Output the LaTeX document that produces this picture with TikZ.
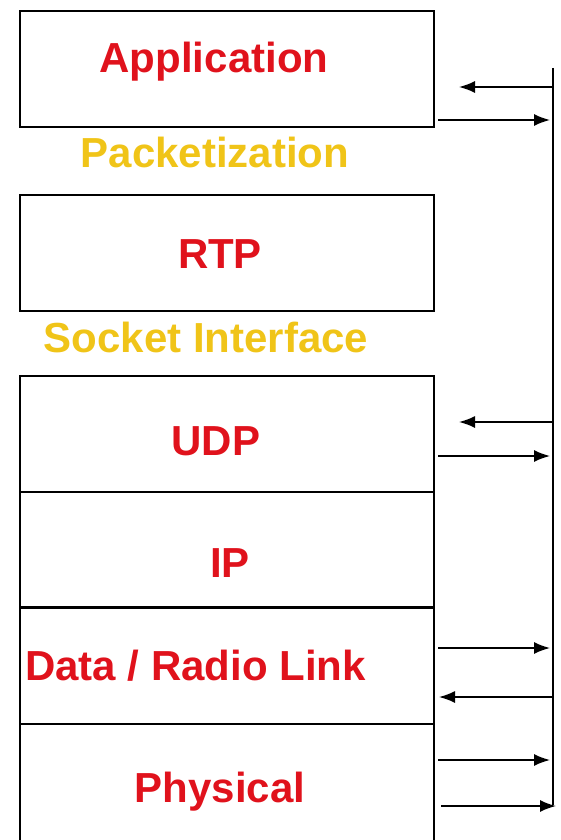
\documentclass[tikz,border=0pt]{standalone}
\usepackage{fontspec}
\setmainfont{Liberation Sans}
\usetikzlibrary{positioning,arrows.meta,calc}
\definecolor{layerred}{RGB}{224,18,28}
\definecolor{stepgold}{RGB}{240,196,24}

\begin{document}
\begin{tikzpicture}[
    x=1pt, y=-1pt,
    node distance=0pt,
    layer/.style={rectangle, draw, line width=1.8pt, minimum width=414pt, minimum height=116pt, inner sep=0pt, outer sep=0pt},
    lname/.style={font=\fontsize{42}{48}\selectfont\bfseries, text=layerred, inner sep=0pt, anchor=base},
    gapname/.style={font=\fontsize{42}{48}\selectfont\bfseries, text=stepgold, inner sep=0pt, anchor=base},
    arrow/.style={-{Latex[length=16pt,width=12pt]}, line width=1.6pt}
]
\useasboundingbox (0,0) rectangle (560,840);

% protocol stack
\node[layer] (app) at (227,69) {};
\node[layer, below=68pt of app] (rtp) {};
\node[layer, below=65pt of rtp] (udp) {};
\node[layer, below=of udp, minimum height=115pt] (ip) {};
\node[layer, below=of ip, minimum height=117pt] (link) {};
\node[layer, below=of link, minimum height=118pt] (phys) {};
\draw[line width=3pt] (ip.south west) -- (ip.south east);

% layer names
\node[lname] (appname) at (214,73) {Application};
\node[lname] (rtpname) at (220,268) {RTP};
\node[lname] (udpname) at (216,455) {UDP};
\node[lname] (ipname) at (230,577) {IP};
\node[lname, anchor=base west] (linkname) at (25,680) {Data / Radio Link};
\node[lname] (physname) at (220,802) {Physical};

% interfaces between layers
\node[gapname] (pkt) at (215,167) {Packetization};
\node[gapname] (sock) at (206,352) {Socket Interface};

% right rail
\coordinate (railtop) at (553,68);
\coordinate (railbot) at (553,805);
\draw[line width=1.6pt] (railtop) -- (railbot);

\coordinate (r1) at (553,87);   \coordinate (t1) at (459,87);
\coordinate (r2) at (550,120);
\coordinate (r3) at (553,422);  \coordinate (t3) at (459,422);
\coordinate (r4) at (550,456);
\coordinate (r5) at (550,648);
\coordinate (r6) at (553,697);
\coordinate (r7) at (550,760);
\coordinate (r8) at (556,806);

\draw[arrow] (r1) -- (t1);
\draw[arrow] ([xshift=4pt]app.east |- r2) -- (r2);
\draw[arrow] (r3) -- (t3);
\draw[arrow] ([xshift=4pt]udp.east |- r4) -- (r4);
\draw[arrow] ([xshift=4pt]link.east |- r5) -- (r5);
\draw[arrow] (r6) -- ([xshift=5pt]link.east |- r6);
\draw[arrow] ([xshift=4pt]phys.east |- r7) -- (r7);
\draw[arrow] ([xshift=7pt]phys.east |- r8) -- (r8);
\end{tikzpicture}
\end{document}
